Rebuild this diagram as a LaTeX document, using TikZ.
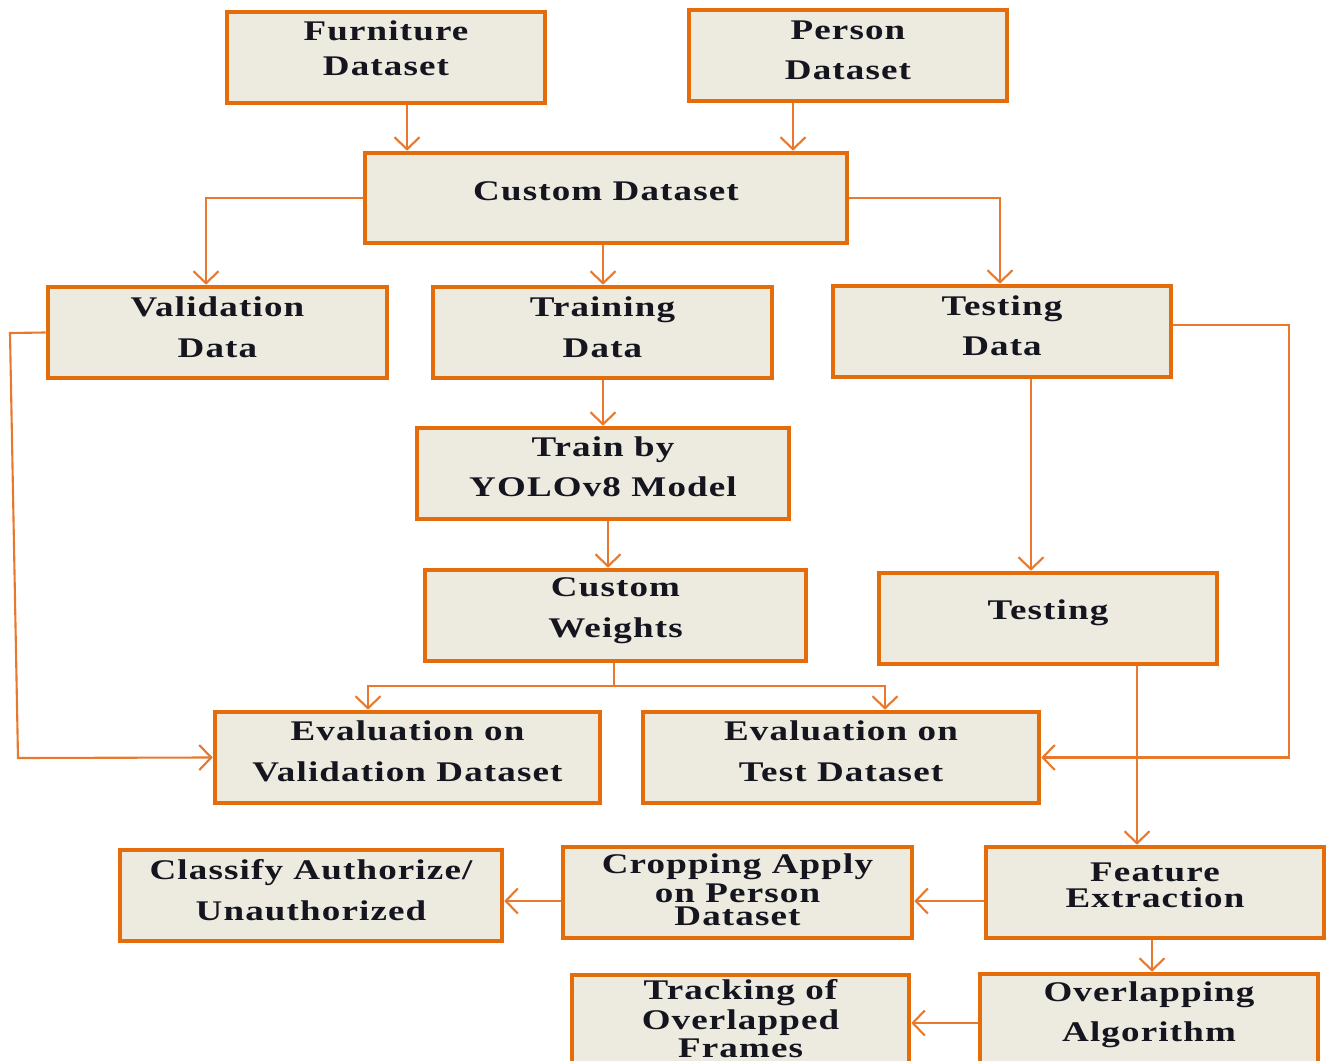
\documentclass[tikz,border=0pt]{standalone}
\usepackage{fontspec}
\usetikzlibrary{arrows.meta}
\newfontfamily\fnt{Liberation Serif}[FakeStretch=1.3,LetterSpace=4]
\definecolor{bord}{HTML}{E46C0A}
\definecolor{boxfill}{HTML}{EDEAE0}
\definecolor{connc}{HTML}{E8792C}
\definecolor{ink}{HTML}{15151F}
\tikzset{
 box/.style={draw=bord, fill=boxfill, line width=1.3pt, inner sep=0pt},
 txt/.style={align=center, inner sep=0pt, text=ink},
 conn/.style={draw=connc, line width=0.6pt, -{Straight Barb[length=1.2mm,width=2.5mm]}},
 plain/.style={draw=connc, line width=0.6pt}
}
% #1 name, #2 left, #3 top, #4 right, #5 bottom, #6 text centre y, #7 baselineskip, #8 text
\newcommand\bx[8]{%
 \node[box, minimum width={(#4-#2)*0.01cm}, minimum height={(#5-#3)*0.01cm}] (#1) at ({(#2+#4)/2},{(#3+#5)/2}) {};
 \node[txt, font=\fnt\bfseries\fontsize{8.1}{#7}\selectfont] (#1t) at ({(#2+#4)/2},#6) {#8};}
\begin{document}
\begin{tikzpicture}[x=0.01cm,y=-0.01cm]
\useasboundingbox (0,0) rectangle (1330,1061);
\clip (0,0) rectangle (1330,1061);
\bx{fd}{227}{12}{545}{103}{48.5}{10}{Furniture\\Dataset}
\bx{pd}{689}{10}{1007}{101}{50}{11.4}{Person\\Dataset}
\bx{cd}{365}{153}{847}{243}{191}{11.4}{Custom Dataset}
\bx{vd}{48}{287}{387}{378}{327.5}{11.7}{Validation\\Data}
\bx{trd}{433}{287}{772}{378}{327.5}{11.7}{Training\\Data}
\bx{tsd}{833}{286}{1171}{377}{326}{11.4}{Testing\\Data}
\bx{yolo}{417}{428}{789}{519}{467}{11.4}{Train by\\YOLOv8 Model}
\bx{cw}{425}{570}{806}{661}{610.5}{11.7}{Custom\\Weights}
\bx{tst}{879}{573}{1217}{664}{613}{11.4}{Testing}
\bx{ev}{215}{712}{600}{803}{751.5}{11.7}{Evaluation on\\Validation Dataset}
\bx{et}{643}{712}{1039}{803}{751.5}{11.7}{Evaluation on\\Test Dataset}
\bx{cl}{120}{850}{502}{941}{890.5}{11.7}{Classify Authorize/\\Unauthorized}
\bx{cr}{563}{847}{912}{938}{890}{6.8}{Cropping Apply\\on Person\\Dataset}
\bx{fe}{986}{847}{1324}{938}{885}{7.4}{Feature\\Extraction}
\bx{tr}{572}{975}{909}{1066}{1019}{6.8}{Tracking of\\Overlapped\\Frames}
\bx{ov}{980}{974}{1318}{1065}{1015}{11.4}{Overlapping\\Algorithm}
% guide coordinates
\coordinate (c1) at (407,0);
\coordinate (c2) at (793,0);
\coordinate (c3) at (206,0);
\coordinate (c4) at (603,0);
\coordinate (c5) at (1000,0);
\coordinate (c6) at (608,0);
\coordinate (c7) at (368,0);
\coordinate (c8) at (885,0);
\coordinate (c9) at (1031,0);
\coordinate (c11) at (1137,0);
\coordinate (c12) at (1152,0);
\coordinate (b1) at (10,333);
\coordinate (b2) at (18,758);
\coordinate (s1) at (614,686);
\coordinate (r1) at (1289,325);
\coordinate (r2) at (0,901);
\coordinate (r3) at (0,1023);
% connectors
\draw[conn] (fd.south -| c1) -- (cd.north -| c1);
\draw[conn] (pd.south -| c2) -- (cd.north -| c2);
\draw[conn] (cd.west) -| (c3 |- vd.north);
\draw[conn] (cd.south -| c4) -- (trd.north -| c4);
\draw[conn] (cd.east) -| (c5 |- tsd.north);
\draw[conn] (vd.west) -- (b1) -- (b2) -- (ev.west);
\draw[conn] (trd.south -| c4) -- (yolo.north -| c4);
\draw[conn] (yolo.south -| c6) -- (cw.north -| c6);
\draw[plain] (cw.south -| s1) -- (s1);
\draw[conn] (s1) -| (c7 |- ev.north);
\draw[conn] (s1) -| (c8 |- et.north);
\draw[conn] (tsd.south -| c9) -- (tst.north -| c9);
\draw[conn] (tsd.east |- r1) -- (r1) |- (et.east);
\draw[conn] (tst.south -| c11) -- (fe.north -| c11);
\draw[conn] (fe.west |- r2) -- (cr.east |- r2);
\draw[conn] (cr.west |- r2) -- (cl.east |- r2);
\draw[conn] (fe.south -| c12) -- (ov.north -| c12);
\draw[conn] (ov.west |- r3) -- (tr.east |- r3);
\end{tikzpicture}
\end{document}
